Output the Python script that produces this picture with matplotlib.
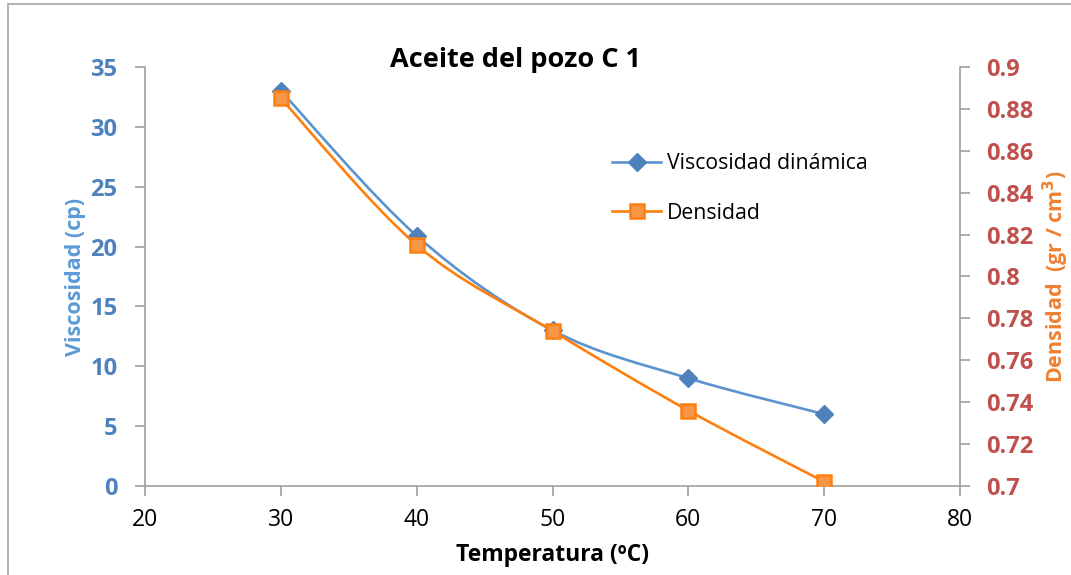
import matplotlib.pyplot as plt
from matplotlib.path import Path
from matplotlib.patches import PathPatch, Rectangle
from matplotlib.lines import Line2D

plt.rcParams['font.family'] = ['Open Sans', 'DejaVu Sans']

temperatura = [30, 40, 50, 60, 70]
viscosidad = [33.0, 20.9, 13.0, 9.0, 6.0]
densidad = [0.885, 0.815, 0.774, 0.736, 0.702]

x_ticks = [20, 30, 40, 50, 60, 70, 80]
y1_ticks = [0, 5, 10, 15, 20, 25, 30, 35]
y2_ticks = [0.7, 0.72, 0.74, 0.76, 0.78, 0.8, 0.82, 0.84, 0.86, 0.88, 0.9]

c_visc = '#5b93cf'
c_visc_mk = '#4f81bd'
c_dens = '#ff7f0e'
c_dens_mk = '#f79646'
c_axis = '#a0a0a0'


def smooth_path(xs, ys):
    # Excel-style smoothed line: cubic Bezier through every data point
    pts = list(zip(xs, ys))
    verts = [pts[0]]
    codes = [Path.MOVETO]
    n = len(pts)
    for i in range(n - 1):
        p0 = pts[i - 1] if i > 0 else pts[i]
        p1 = pts[i]
        p2 = pts[i + 1]
        p3 = pts[i + 2] if i + 2 < n else pts[i + 1]
        c1 = (p1[0] + (p2[0] - p0[0]) / 6, p1[1] + (p2[1] - p0[1]) / 6)
        c2 = (p2[0] - (p3[0] - p1[0]) / 6, p2[1] - (p3[1] - p1[1]) / 6)
        verts += [c1, c2, p2]
        codes += [Path.CURVE4] * 3
    return Path(verts, codes)


fig = plt.figure(figsize=(10.71, 5.75), dpi=100)
ax = fig.add_axes([0.1354, 0.1548, 0.7610, 0.7287])
ax2 = ax.twinx()

ax.add_patch(PathPatch(smooth_path(temperatura, viscosidad), fill=False,
                       edgecolor=c_visc, lw=1.9, zorder=2))
ax.plot(temperatura, viscosidad, ls='none', marker='D', ms=9,
        color=c_visc_mk, zorder=3)

ax2.add_patch(PathPatch(smooth_path(temperatura, densidad), fill=False,
                        edgecolor=c_dens, lw=1.9, zorder=2))
ax2.plot(temperatura, densidad, ls='none', marker='s', ms=9.5,
         markerfacecolor=c_dens_mk, markeredgecolor=c_dens, mew=1.8, zorder=3)

ax.set_xlim(20, 80)
ax.set_ylim(0, 35)
ax2.set_ylim(0.7, 0.9)
ax.set_xticks(x_ticks, [str(v) for v in x_ticks])
ax.set_yticks(y1_ticks, [str(v) for v in y1_ticks], fontweight='bold')
ax2.set_yticks(y2_ticks, [f'{v:g}' for v in y2_ticks], fontweight='bold')

for a in (ax, ax2):
    a.spines['top'].set_visible(False)
    for s in ('left', 'right', 'bottom'):
        a.spines[s].set_color(c_axis)
        a.spines[s].set_linewidth(1.2)
ax.spines['right'].set_visible(False)
ax2.spines['left'].set_visible(False)
ax2.spines['bottom'].set_visible(False)

ax.tick_params(axis='x', colors=c_axis, labelcolor='black', labelsize=16.5,
               length=7, width=1.2, pad=9)
ax.tick_params(axis='y', colors=c_axis, labelcolor=c_visc_mk, labelsize=17,
               length=7, width=1.2, pad=13)
ax2.tick_params(axis='y', colors=c_axis, labelcolor='#c0504d', labelsize=17,
                length=7, width=1.2, pad=12)

ax.set_ylabel('Viscosidad (cp)', color='#5b9bd5', fontsize=15.5,
              fontweight='bold', labelpad=3)
ax2.set_ylabel('Densidad  (gr / cm$^\\mathbf{3}$)', color='#f08030',
               fontsize=15.5, fontweight='bold', labelpad=5)
ax.set_xlabel('Temperatura (ºC)', fontsize=16.5, fontweight='bold', labelpad=8)

fig.text(0.481, 0.895, 'Aceite del pozo C 1', fontsize=19.5, fontweight='bold',
         ha='center', va='center')

handles = [
    Line2D([], [], color=c_visc, lw=1.9, marker='D', ms=9,
           markerfacecolor=c_visc_mk, markeredgecolor=c_visc_mk),
    Line2D([], [], color=c_dens, lw=1.9, marker='s', ms=9.5,
           markerfacecolor=c_dens_mk, markeredgecolor=c_dens, mew=1.8),
]
ax2.legend(handles, ['Viscosidad dinámica', 'Densidad'], loc='upper left',
           bbox_to_anchor=(0.55, 0.84), frameon=False, fontsize=15.3,
           handlelength=2.3, handletextpad=0.25, labelspacing=1.35)

fig.add_artist(Rectangle((8 / 1071, -0.1), 1.2, 1.1 - 4 / 575,
                         transform=fig.transFigure, fill=False,
                         edgecolor='#a6a6a6', lw=1.2))

fig.savefig('out.png', dpi=100)
